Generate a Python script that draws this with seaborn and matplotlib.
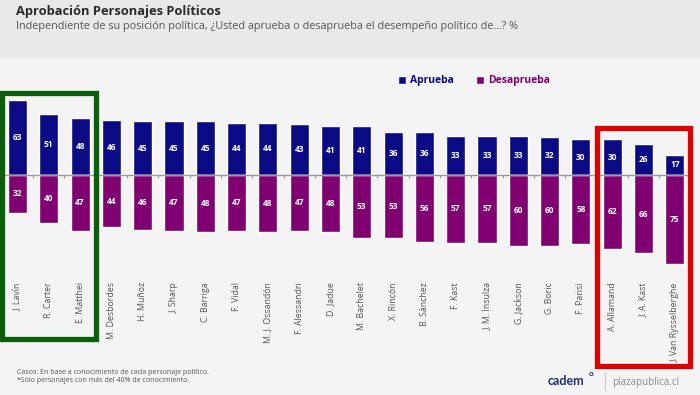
import matplotlib

matplotlib.use("Agg")
import matplotlib.pyplot as plt
import matplotlib.transforms as mtransforms
from matplotlib.patches import Rectangle
import numpy as np
import pandas as pd
import seaborn as sns


NOMBRES = [
    "J. Lavín", "R. Carter", "E. Matthei", "M. Desbordes", "H. Muñoz",
    "J. Sharp", "C. Barriga", "F. Vidal", "M. J. Ossandón", "F. Alessandri",
    "D. Jadue", "M. Bachelet", "X. Rincón", "B. Sánchez", "F. Kast",
    "J. M. Insulza", "G. Jackson", "G. Boric", "F. Parisi", "A. Allamand",
    "J. A. Kast", "J. Van Rysselberghe",
]
APRUEBA = [63, 51, 48, 46, 45, 45, 45, 44, 44, 43, 41, 41, 36, 36, 33, 33, 33, 32, 30, 30, 26, 17]
DESAPRUEBA = [32, 40, 47, 44, 46, 47, 48, 47, 48, 47, 48, 53, 53, 56, 57, 57, 60, 60, 58, 62, 66, 75]
SERIES = ["Aprueba", "Desaprueba"]
DESTACADOS_VERDE = ["J. Lavín", "R. Carter", "E. Matthei"]
DESTACADOS_ROJO = ["A. Allamand", "J. A. Kast", "J. Van Rysselberghe"]

TITULO = "Aprobación Personajes Políticos"
SUBTITULO = ("Independiente de su posición política, ¿Usted aprueba o desaprueba "
             "el desempeño político de...? %")
NOTA_1 = "Casos: En base a conocimiento de cada personaje político."
NOTA_2 = "*Sólo personajes con más del 40% de conocimiento."

AZUL = "#0a0a85"
MORADO = "#800072"
FONDO = "#f4f4f4"
CABECERA = "#e8e9ea"

sns.set_theme(style="white")
plt.rcParams["font.family"] = ["Open Sans", "DejaVu Sans"]

n = len(NOMBRES)
df = pd.DataFrame({
    "nombre": NOMBRES * 2,
    "serie": [SERIES[0]] * n + [SERIES[1]] * n,
    "valor": APRUEBA + [-v for v in DESAPRUEBA],
})

fig = plt.figure(figsize=(7.0, 3.95), dpi=100)
fig.patch.set_facecolor(FONDO)
fig.patches.append(Rectangle((0, 1 - 58 / 395), 1, 58 / 395, transform=fig.transFigure,
                             facecolor=CABECERA, edgecolor="none", zorder=0))

ax = fig.add_axes([0, 117 / 395, 1, 188 / 395])
ax.set_facecolor("none")
sns.barplot(
    data=df, x="nombre", y="valor", hue="serie", order=NOMBRES, hue_order=SERIES,
    palette={SERIES[0]: AZUL, SERIES[1]: MORADO}, dodge=False, width=0.61,
    saturation=1, legend=False, ax=ax,
)
for cont, vals in zip(ax.containers, [APRUEBA, DESAPRUEBA]):
    ax.bar_label(cont, labels=[str(v) for v in vals], label_type="center",
                 color="white", fontsize=6, fontweight="bold")

ax.hlines(0, -0.5, n - 0.5, color="#9a9a9a", lw=1, zorder=3)
ax.vlines(np.arange(n - 1) + 0.5, -2.5, 0, color="#9a9a9a", lw=0.8, zorder=3)

ax.set_xlim(-17.5 / 31.3, (700 - 17.5) / 31.3)
ax.set_ylim(-86.6, 71.4)
ax.set_xlabel("")
ax.set_ylabel("")
ax.set_yticks([])
ax.tick_params(axis="x", length=0, pad=3, labelsize=6.3, labelcolor="#555555")
plt.setp(ax.get_xticklabels(), rotation=90, va="top", ha="center")
sns.despine(ax=ax, left=True, bottom=True)

# recuadros de destacados (x en categorías, y en figura)
blend = mtransforms.blended_transform_factory(ax.transData, fig.transFigure)
for grupo, color, y_top, y_bot in [
    (DESTACADOS_VERDE, "#0b5e0b", 92.5, 338.5),
    (DESTACADOS_ROJO, "#e00000", 127.5, 365.5),
]:
    idx = [NOMBRES.index(g) for g in grupo]
    x0 = min(idx) - 0.5
    x1 = max(idx) + 0.5
    rect = Rectangle((x0, 1 - y_bot / 395), x1 - x0, (y_bot - y_top) / 395,
                     transform=blend, fill=False, edgecolor=color, lw=3.8,
                     clip_on=False, zorder=5)
    ax.add_patch(rect)

leg = ax.legend(
    handles=list(ax.containers), labels=SERIES, ncol=2, loc="center",
    bbox_to_anchor=(474 / 700, 1 - 81 / 395), bbox_transform=fig.transFigure,
    frameon=False, fontsize=7.5, handlelength=0.75, handleheight=0.9,
    handletextpad=0.35, columnspacing=2.2, borderpad=0,
)
for txt, col in zip(leg.get_texts(), [AZUL, MORADO]):
    txt.set_color(col)
    txt.set_fontweight("bold")

fig.text(16 / 700, 1 - 12 / 395, TITULO, fontsize=9.3, fontweight="bold",
         color="#2a2a2a", va="center", ha="left")
fig.text(16 / 700, 1 - 27 / 395, SUBTITULO, fontsize=7.8, color="#555555",
         va="center", ha="left")
fig.text(17 / 700, 1 - 372 / 395, NOTA_1, fontsize=5.0, color="#555555",
         va="center", ha="left")
fig.text(17 / 700, 1 - 381 / 395, NOTA_2, fontsize=5.0, color="#555555",
         va="center", ha="left")

fig.text(548 / 700, 1 - 381 / 395, "cadem", fontsize=9, fontweight="bold",
         color="#1b2f6e", va="center", ha="left", family=["Lato", "DejaVu Sans"])
fig.text(591 / 700, 1 - 374 / 395, "o", fontsize=6, fontweight="bold",
         color="#1b2f6e", va="center", ha="center", family=["Lato", "DejaVu Sans"])
fig.add_artist(plt.Line2D([605 / 700, 605 / 700], [1 - 372 / 395, 1 - 390 / 395],
                          color="#c8c8c8", lw=0.8, transform=fig.transFigure))
fig.text(612 / 700, 1 - 382 / 395, "plazapublica.cl", fontsize=7, color="#8a8a8a",
         va="center", ha="left")

fig.savefig("out.png", dpi=100, facecolor=FONDO)
